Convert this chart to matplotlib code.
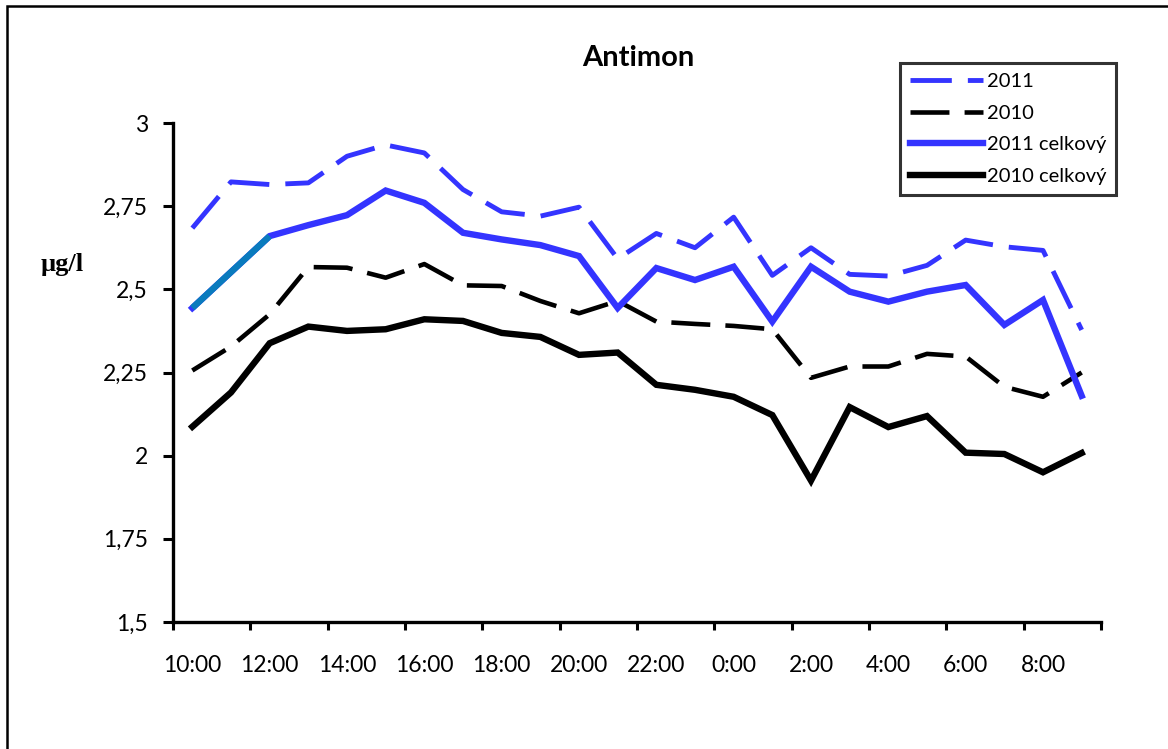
import matplotlib.pyplot as plt
from matplotlib.patches import Rectangle
import numpy as np

# hourly sampling, 10:00 through 9:00 next morning
hours = ["10:00", "11:00", "12:00", "13:00", "14:00", "15:00", "16:00", "17:00",
         "18:00", "19:00", "20:00", "21:00", "22:00", "23:00", "0:00", "1:00",
         "2:00", "3:00", "4:00", "5:00", "6:00", "7:00", "8:00", "9:00"]

sb_2011 = [2.684, 2.823, 2.815, 2.82, 2.90, 2.934, 2.91, 2.80, 2.733, 2.72, 2.747, 2.592,
           2.668, 2.625, 2.717, 2.542, 2.625, 2.545, 2.54, 2.572, 2.648, 2.628, 2.617, 2.378]
sb_2010 = [2.256, 2.328, 2.425, 2.567, 2.565, 2.535, 2.576, 2.512, 2.51, 2.465, 2.428, 2.465,
           2.403, 2.396, 2.39, 2.38, 2.234, 2.268, 2.268, 2.306, 2.298, 2.207, 2.177, 2.25]
sb_2011_total = [2.444, 2.552, 2.66, 2.693, 2.723, 2.797, 2.76, 2.67, 2.65, 2.633, 2.60, 2.444,
                 2.564, 2.528, 2.568, 2.403, 2.568, 2.493, 2.463, 2.493, 2.513, 2.393, 2.468, 2.18]
sb_2010_total = [2.087, 2.19, 2.338, 2.388, 2.375, 2.38, 2.41, 2.405, 2.369, 2.357, 2.303, 2.31,
                 2.213, 2.198, 2.177, 2.122, 1.925, 2.146, 2.086, 2.119, 2.009, 2.005, 1.95, 2.008]

yticks = [1.5, 1.75, 2.0, 2.25, 2.5, 2.75, 3.0]
ytick_labels = ["1,5", "1,75", "2", "2,25", "2,5", "2,75", "3"]

blue = "#3434FF"
teal = "#0A7BBD"

plt.rcParams['font.family'] = ['Lato', 'DejaVu Sans']

fig = plt.figure(figsize=(11.68, 7.49), dpi=100)
ax = fig.add_axes([173 / 1168, 1 - 622 / 749, 928 / 1168, 499 / 749])

x = np.arange(len(hours))
ax.plot(x, sb_2011, color=blue, lw=3.5, dashes=(8.5, 3.3), label="2011")
ax.plot(x, sb_2010, color="black", lw=3.3, dashes=(8.5, 3.3), label="2010")
ax.plot(x, sb_2011_total, color=blue, lw=4.6, solid_joinstyle="miter", label="2011 celkový")
ax.plot(x[:3], sb_2011_total[:3], color=teal, lw=4.6, solid_capstyle="butt")
ax.plot(x, sb_2010_total, color="black", lw=4.6, solid_joinstyle="miter", label="2010 celkový")

ax.set_xlim(-0.5, len(hours) - 0.5)
ax.set_ylim(1.5, 3.0)

# tick marks sit between category pairs, labels on every second hour
ax.set_xticks(np.arange(-0.5, len(hours), 2))
ax.set_xticklabels([])
ax.set_xticks(x[::2], minor=True)
ax.set_xticklabels(hours[::2], minor=True, fontsize=16.5)
ax.tick_params(axis="x", which="major", direction="out", length=6, width=2.2)
ax.tick_params(axis="x", which="minor", length=0, pad=24)

ax.set_yticks(yticks)
ax.set_yticklabels(ytick_labels, fontsize=16.5)
ax.tick_params(axis="y", direction="out", length=7, width=2.2, pad=11)

for side in ["top", "right"]:
    ax.spines[side].set_visible(False)
for side in ["left", "bottom"]:
    ax.spines[side].set_linewidth(2.4)

fig.text(638 / 1168, 1 - 58 / 749, "Antimon", ha="center", va="center",
         fontsize=21, fontweight="bold")
fig.text(62 / 1168, 1 - 265 / 749, "µg/l", ha="center", va="center",
         fontsize=19, fontweight="bold", family="Liberation Serif")

leg = fig.legend(loc="upper left", bbox_to_anchor=(900 / 1168, 1 - 63 / 749),
                 fontsize=14.5, handlelength=3.6, handletextpad=0.2, labelspacing=0.72,
                 borderaxespad=0, borderpad=0.5, fancybox=False)
leg.get_frame().set_edgecolor("black")
leg.get_frame().set_linewidth(2.2)

# outer chart border (top and left edges)
fig.add_artist(Rectangle((7 / 1168, -0.2), 1.2, 1.2 - 6 / 749, transform=fig.transFigure,
                         fill=False, edgecolor="black", lw=1.8))

fig.savefig("out.png", dpi=100)
